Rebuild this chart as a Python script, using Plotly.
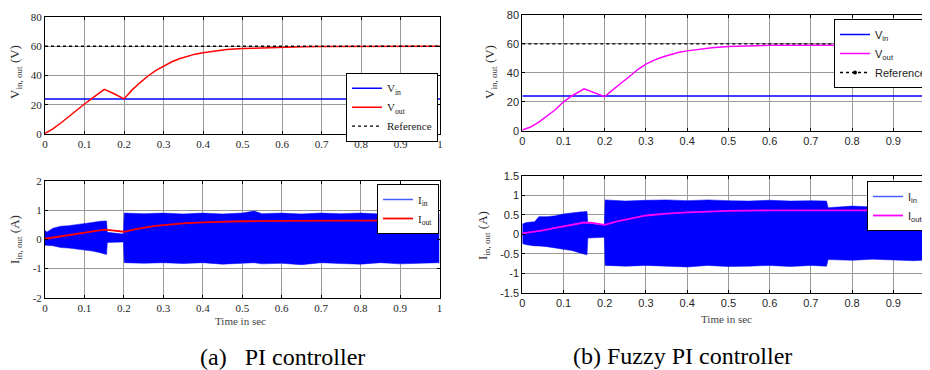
import plotly.graph_objects as go

# browser body margin offsets the figure by 8 px; figure is sized so page = 930x370
OFF = 8
W, H = 930 - OFF, 370 - OFF

# ------------------------------------------------------------------ data
# voltages (V)
t_v = [0, 0.02, 0.04, 0.06, 0.08, 0.1, 0.12, 0.15, 0.175, 0.2, 0.21, 0.22, 0.24,
       0.26, 0.28, 0.3, 0.32, 0.34, 0.36, 0.38, 0.4, 0.43, 0.46, 0.5, 0.55,
       0.6, 0.65, 0.7, 0.8, 0.9, 1.0]
pi_vout = [0.5, 3.5, 7.5, 12, 16, 20.5, 24.5, 30.5, 27.5, 24, 27, 30, 35,
           39.5, 43.3, 46.5, 49.2, 51.4, 53.2, 54.6, 55.6, 56.8, 57.7, 58.4, 59,
           59.4, 59.7, 59.9, 60, 60, 60]
fz_vout = [0.5, 2.5, 6, 10, 14.5, 20, 24, 29, 26.5, 23.5, 26, 28.5, 33,
           37.5, 42.3, 46, 48.8, 51, 52.8, 54.2, 55.2, 56.5, 57.4, 58.2, 58.8,
           59, 59.1, 59.2, 59.2, 59.3, 59.3]
t_const = [0, 1]
vin = [24, 24]
vref = [60, 60]

# output currents (A)
t_i = [0, 0.02, 0.05, 0.08, 0.1, 0.12, 0.15, 0.17, 0.2, 0.23, 0.25, 0.28,
       0.3, 0.35, 0.4, 0.45, 0.5, 0.6, 0.7, 0.8, 0.9, 1.0]
pi_iout = [0.02, 0.06, 0.12, 0.19, 0.23, 0.27, 0.33, 0.31, 0.26, 0.35, 0.4, 0.46,
           0.49, 0.55, 0.58, 0.6, 0.62, 0.63, 0.64, 0.65, 0.65, 0.65]
fz_iout = [0.02, 0.05, 0.1, 0.16, 0.2, 0.23, 0.3, 0.29, 0.24, 0.33, 0.38, 0.44,
           0.48, 0.53, 0.56, 0.58, 0.6, 0.61, 0.61, 0.61, 0.61, 0.61]

# input current ripple envelope (A)
pi_iin_t = [0, 0.005, 0.02, 0.03, 0.04, 0.06, 0.08, 0.1, 0.12, 0.14, 0.156,
            0.158, 0.18, 0.199, 0.201, 0.25, 0.3, 0.35, 0.4, 0.45, 0.5, 0.53,
            0.55, 0.6, 0.65, 0.7, 0.75, 0.8, 0.85, 0.9, 0.95, 1.0]
pi_iin_hi = [0.3, 0.25, 0.38, 0.42, 0.45, 0.47, 0.5, 0.55, 0.58, 0.62, 0.63,
             0.24, 0.2, 0.18, 0.9, 0.88, 0.9, 0.87, 0.9, 0.87, 0.9, 0.97,
             0.88, 0.9, 0.87, 0.9, 0.88, 0.9, 0.87, 0.9, 0.88, 0.87]
pi_iin_lo = [-0.2, -0.2, -0.22, -0.25, -0.28, -0.3, -0.33, -0.36, -0.4, -0.46, -0.52,
             -0.11, -0.1, -0.09, -0.8, -0.82, -0.8, -0.83, -0.8, -0.85, -0.82, -0.8,
             -0.84, -0.82, -0.87, -0.8, -0.83, -0.85, -0.8, -0.84, -0.82, -0.8]

fz_iin_t = [0, 0.01, 0.03, 0.04, 0.06, 0.08, 0.1, 0.12, 0.14, 0.157,
            0.159, 0.18, 0.199, 0.201, 0.25, 0.3, 0.35, 0.4, 0.45, 0.5, 0.55,
            0.6, 0.65, 0.7, 0.738, 0.742, 0.8, 0.85, 0.9, 0.95, 1.0]
fz_iin_hi = [0.26, 0.3, 0.32, 0.45, 0.45, 0.47, 0.52, 0.55, 0.57, 0.58,
             0.28, 0.25, 0.23, 0.88, 0.85, 0.87, 0.88, 0.86, 0.88, 0.86, 0.85,
             0.87, 0.85, 0.86, 0.85, 0.68, 0.72, 0.7, 0.68, 0.7, 0.7]
fz_iin_lo = [-0.24, -0.27, -0.3, -0.3, -0.32, -0.35, -0.38, -0.42, -0.48, -0.53,
             -0.1, -0.09, -0.08, -0.8, -0.82, -0.8, -0.82, -0.84, -0.8, -0.83, -0.82,
             -0.8, -0.83, -0.8, -0.82, -0.65, -0.67, -0.64, -0.66, -0.68, -0.65]

x_ticks = [0, 0.1, 0.2, 0.3, 0.4, 0.5, 0.6, 0.7, 0.8, 0.9, 1.0]
x_ticktext = ["0", "0.1", "0.2", "0.3", "0.4", "0.5", "0.6", "0.7", "0.8", "0.9", "1"]
v_ticks = [0, 20, 40, 60, 80]
v_ticktext = ["0", "20", "40", "60", "80"]
pi_i_ticks = [-2, -1, 0, 1, 2]
pi_i_ticktext = ["-2", "-1", "0", "1", "2"]
fz_i_ticks = [-1.5, -1, -0.5, 0, 0.5, 1, 1.5]
fz_i_ticktext = ["-1.5", "-1", "-0.5", "0", "0.5", "1", "1.5"]

# ------------------------------------------------------------------ layout helpers
SERIF = "Liberation Serif"
SANS = "Liberation Sans"
BLUE, RED, MAG = "#0000ff", "#ff0000", "#ff00ff"


def px(v):
    return (v - OFF) / W


def py(v):
    return 1 - (v - OFF) / H


def xd(a, b):
    return [max(0.0, px(a)), min(1.0, px(b))]


def yd(top, bot):
    return [py(bot), py(top)]


fig = go.Figure()

# ---- (a) top: voltages
fig.add_trace(go.Scatter(x=t_const, y=vin, mode="lines", line=dict(color=BLUE, width=1.5),
                         name="V<sub>in</sub>", xaxis="x", yaxis="y", legend="legend"))
fig.add_trace(go.Scatter(x=t_v, y=pi_vout, mode="lines", line=dict(color=RED, width=1.5),
                         name="V<sub>out</sub>", xaxis="x", yaxis="y", legend="legend"))
fig.add_trace(go.Scatter(x=t_const, y=vref, mode="lines", line=dict(color="black", width=1.3, dash="dot"),
                         name="Reference", xaxis="x", yaxis="y", legend="legend"))

# ---- (a) bottom: currents
fig.add_trace(go.Scatter(x=pi_iin_t, y=pi_iin_lo, mode="lines", line=dict(color=BLUE, width=0.5),
                         showlegend=False, xaxis="x2", yaxis="y2", hoverinfo="skip"))
fig.add_trace(go.Scatter(x=pi_iin_t, y=pi_iin_hi, mode="lines", line=dict(color=BLUE, width=0.5),
                         fill="tonexty", fillcolor=BLUE, showlegend=False, xaxis="x2", yaxis="y2"))
fig.add_trace(go.Scatter(x=[None], y=[None], mode="lines", line=dict(color="#4a5cff", width=1.5),
                         name="I<sub>in</sub>", xaxis="x2", yaxis="y2", legend="legend2"))
fig.add_trace(go.Scatter(x=t_i, y=pi_iout, mode="lines", line=dict(color=RED, width=1.8),
                         name="I<sub>out</sub>", xaxis="x2", yaxis="y2", legend="legend2"))

# ---- (b) top: voltages
fig.add_trace(go.Scatter(x=t_const, y=vin, mode="lines", line=dict(color=BLUE, width=1.5),
                         name="V<sub>in</sub>", xaxis="x3", yaxis="y3", legend="legend3"))
fig.add_trace(go.Scatter(x=t_v, y=fz_vout, mode="lines", line=dict(color=MAG, width=1.5),
                         name="V<sub>out</sub>", xaxis="x3", yaxis="y3", legend="legend3"))
fig.add_trace(go.Scatter(x=t_const, y=vref, mode="lines", line=dict(color="black", width=1.3, dash="dot"),
                         showlegend=False, xaxis="x3", yaxis="y3"))
fig.add_trace(go.Scatter(x=[None], y=[None], mode="lines+markers",
                         line=dict(color="black", width=1.3, dash="dot"), marker=dict(size=4, color="black"),
                         name="Reference", xaxis="x3", yaxis="y3", legend="legend3"))

# ---- (b) bottom: currents
fig.add_trace(go.Scatter(x=fz_iin_t, y=fz_iin_lo, mode="lines", line=dict(color=BLUE, width=0.5),
                         showlegend=False, xaxis="x4", yaxis="y4", hoverinfo="skip"))
fig.add_trace(go.Scatter(x=fz_iin_t, y=fz_iin_hi, mode="lines", line=dict(color=BLUE, width=0.5),
                         fill="tonexty", fillcolor=BLUE, showlegend=False, xaxis="x4", yaxis="y4"))
fig.add_trace(go.Scatter(x=[None], y=[None], mode="lines", line=dict(color="#4a5cff", width=1.5),
                         name="I<sub>in</sub>", xaxis="x4", yaxis="y4", legend="legend4"))
fig.add_trace(go.Scatter(x=t_i, y=fz_iout, mode="lines", line=dict(color=MAG, width=1.8),
                         name="I<sub>out</sub>", xaxis="x4", yaxis="y4", legend="legend4"))

GRID = "#9a9a9a"
TICKCOL = "#262626"


def xax(dom, anchor, rng, font, mirror):
    return dict(domain=dom, anchor=anchor, range=rng, tickvals=x_ticks, ticktext=x_ticktext,
                showgrid=True, gridcolor=GRID, gridwidth=1, zeroline=False,
                showline=True, linecolor="black", linewidth=1, mirror=mirror,
                ticks="inside", ticklen=3, tickcolor="black",
                tickfont=dict(family=font, size=11, color=TICKCOL),
                fixedrange=True)


def yax(dom, anchor, rng, tv, tt, font, mirror):
    return dict(domain=dom, anchor=anchor, range=rng, tickvals=tv, ticktext=tt,
                showgrid=True, gridcolor=GRID, gridwidth=1, zeroline=False,
                showline=True, linecolor="black", linewidth=1, mirror=mirror,
                ticks="inside", ticklen=3, tickcolor="black",
                tickfont=dict(family=font, size=11, color=TICKCOL),
                fixedrange=True)


fx_max = (930 - 522.3) / 412.2

legend_common = dict(bgcolor="white", bordercolor="black", borderwidth=1,
                     itemwidth=30, tracegroupgap=0, traceorder="normal")

fig.update_layout(
    width=W, height=H, autosize=False,
    margin=dict(l=0, r=0, t=0, b=0, autoexpand=False),
    paper_bgcolor="white", plot_bgcolor="white",
    showlegend=True,
    xaxis=xax(xd(45, 440), "y", [0, 1], SERIF, "allticks"),
    yaxis=yax(yd(17, 134), "x", [0, 80], v_ticks, v_ticktext, SERIF, "allticks"),
    xaxis2=xax(xd(45, 439.5), "y2", [0, 1], SERIF, "allticks"),
    yaxis2=yax(yd(181, 297.7), "x2", [-2, 2], pi_i_ticks, pi_i_ticktext, SERIF, "allticks"),
    xaxis3=xax(xd(522.3, 930), "y3", [0, fx_max], SANS, "allticks"),
    yaxis3=yax(yd(15, 130.7), "x3", [0, 80], v_ticks, v_ticktext, SANS, False),
    xaxis4=xax(xd(522.3, 930), "y4", [0, fx_max], SANS, "allticks"),
    yaxis4=yax(yd(175.7, 292.7), "x4", [-1.5, 1.5], fz_i_ticks, fz_i_ticktext, SANS, False),
    legend=dict(x=px(438), y=py(72.7), xanchor="right", yanchor="top",
                font=dict(family=SERIF, size=11, color="#222"), **legend_common),
    legend2=dict(x=px(439), y=py(184), xanchor="right", yanchor="top",
                 font=dict(family=SERIF, size=11, color="#222"), **legend_common),
    legend3=dict(x=px(834), y=py(19), xanchor="left", yanchor="top",
                 font=dict(family=SANS, size=11, color="#222"), **legend_common),
    legend4=dict(x=px(867), y=py(181), xanchor="left", yanchor="top",
                 font=dict(family=SANS, size=11, color="#222"), **legend_common),
)

ann = [
    dict(text="V<sub>in, out</sub> (V)", x=px(15), y=py(72), textangle=-90,
         font=dict(family=SERIF, size=13, color="#333")),
    dict(text="I<sub>in, out</sub> (A)", x=px(15), y=py(240), textangle=-90,
         font=dict(family=SERIF, size=13, color="#333")),
    dict(text="V<sub>in, out</sub> (V)", x=px(490), y=py(72), textangle=-90,
         font=dict(family=SERIF, size=13, color="#333")),
    dict(text="I<sub>in, out</sub> (A)", x=px(484), y=py(236), textangle=-90,
         font=dict(family=SERIF, size=13, color="#333")),
    dict(text="Time in sec", x=px(240), y=py(321),
         font=dict(family=SERIF, size=11, color="#444")),
    dict(text="Time in sec", x=px(726), y=py(319),
         font=dict(family=SERIF, size=11, color="#444")),
    dict(text="(a)\u00a0\u00a0\u00a0PI controller", x=px(282), y=py(357),
         font=dict(family=SERIF, size=24, color="black")),
    dict(text="(b) Fuzzy PI controller", x=px(682), y=py(356),
         font=dict(family=SERIF, size=24, color="black")),
]
for a in ann:
    a.update(xref="paper", yref="paper", showarrow=False, xanchor="center", yanchor="middle")
fig.update_layout(annotations=ann)

fig.write_html("out.html")
